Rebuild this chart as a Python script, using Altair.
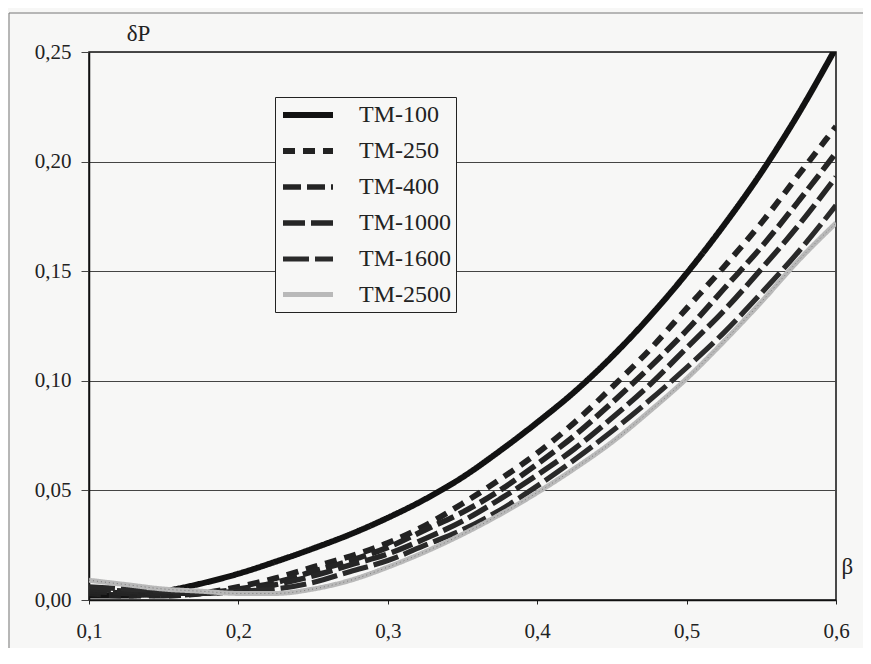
import altair as alt
import pandas as pd

# ---- data ----
beta = [0.1, 0.125, 0.15, 0.175, 0.2, 0.225, 0.25, 0.275, 0.3, 0.325, 0.35,
        0.375, 0.4, 0.425, 0.45, 0.475, 0.5, 0.525, 0.55, 0.575, 0.6]
tm100 = [0.002, 0.002, 0.004, 0.0075, 0.012, 0.0175, 0.0235, 0.030, 0.0375, 0.046, 0.056,
         0.068, 0.081, 0.095, 0.111, 0.129, 0.149, 0.171, 0.195, 0.222, 0.252]
tm250 = [0.003, 0.002, 0.002, 0.003, 0.006, 0.010, 0.015, 0.020, 0.026, 0.034, 0.044,
         0.055, 0.067, 0.081, 0.097, 0.114, 0.133, 0.152, 0.172, 0.194, 0.216]
tm400 = [0.004, 0.003, 0.002, 0.003, 0.005, 0.008, 0.013, 0.018, 0.024, 0.032, 0.040,
         0.050, 0.062, 0.075, 0.090, 0.106, 0.123, 0.142, 0.161, 0.182, 0.204]
tm1000 = [0.005, 0.004, 0.003, 0.003, 0.004, 0.007, 0.011, 0.016, 0.021, 0.028, 0.036,
          0.046, 0.057, 0.069, 0.083, 0.098, 0.115, 0.132, 0.151, 0.171, 0.193]
tm1600 = [0.006, 0.005, 0.004, 0.003, 0.004, 0.005, 0.008, 0.013, 0.018, 0.025, 0.032,
          0.041, 0.052, 0.064, 0.077, 0.091, 0.106, 0.122, 0.140, 0.159, 0.180]
tm2500 = [0.009, 0.007, 0.005, 0.004, 0.003, 0.003, 0.005, 0.009, 0.015, 0.022, 0.030,
          0.039, 0.049, 0.060, 0.072, 0.086, 0.101, 0.118, 0.136, 0.155, 0.172]

series_names = ["TM-100", "TM-250", "TM-400", "TM-1000", "TM-1600", "TM-2500"]
series_vals = [tm100, tm250, tm400, tm1000, tm1600, tm2500]

x_ticks = [0.1, 0.2, 0.3, 0.4, 0.5, 0.6]
y_ticks = [0.0, 0.05, 0.10, 0.15, 0.20, 0.25]

rows = []
for name, vals in zip(series_names, series_vals):
    for b, v in zip(beta, vals):
        rows.append({"beta": b, "dP": v, "series": name})
df = pd.DataFrame(rows)

BG = "#f7f7f6"
FONT = "Liberation Serif"
W, H = 747, 548

x_enc = alt.X(
    "beta:Q",
    scale=alt.Scale(domain=[0.1, 0.6], nice=False, zero=False),
    axis=alt.Axis(
        values=x_ticks,
        labelExpr="replace(format(datum.value, '.1f'), '.', ',')",
        labelFlush=False,
        title="β", titleAngle=0, titleX=752, titleY=-34,
        titleAlign="left", titleBaseline="middle",
        titleFont=FONT, titleFontSize=23, titleFontWeight="normal", titleColor="#222",
        labelFont=FONT, labelFontSize=21, labelColor="#222",
        tickSize=4, tickColor="#222", labelPadding=16,
        grid=False, domainColor="#111", domainWidth=1.5,
    ),
)
y_enc = alt.Y(
    "dP:Q",
    scale=alt.Scale(domain=[0, 0.25], nice=False),
    axis=alt.Axis(
        values=y_ticks,
        labelExpr="replace(format(datum.value, '.2f'), '.', ',')",
        labelFlush=False,
        title="δP", titleAngle=0, titleX=49, titleY=-19,
        titleAlign="center", titleBaseline="middle",
        titleFont=FONT, titleFontSize=23, titleFontWeight="normal", titleColor="#222",
        labelFont=FONT, labelFontSize=21, labelColor="#222",
        tickSize=8, tickColor="#444", labelPadding=10,
        grid=True, gridColor="#444", gridWidth=1,
        domainColor="#111", domainWidth=1.5,
    ),
)

lines = alt.Chart(df).mark_line(clip=True, interpolate="monotone").encode(
    x=x_enc,
    y=y_enc,
    color=alt.Color(
        "series:N",
        scale=alt.Scale(domain=series_names,
                        range=["#121212", "#222222", "#242424", "#262626", "#2a2a2a", "#b9b9b9"]),
        legend=alt.Legend(
            orient="none", legendX=186, legendY=45, title=None,
            symbolType="M-1,0H4", symbolSize=400,
            labelFont=FONT, labelFontSize=24, labelColor="#222",
            labelOffset=53, rowPadding=11, padding=5,
            strokeColor="#222", fillColor=BG,
        ),
    ),
    strokeDash=alt.StrokeDash(
        "series:N",
        scale=alt.Scale(domain=series_names,
                        range=[[1, 0], [12, 8], [18, 6], [22, 6], [26, 6], [1, 0]]),
        legend=None,
    ),
    strokeWidth=alt.StrokeWidth(
        "series:N",
        scale=alt.Scale(domain=series_names, range=[6, 5, 5, 5, 5, 4]),
        legend=None,
    ),
    order=alt.Order("beta:Q"),
)

speckle = alt.Chart(df[df["series"] == "TM-2500"]).mark_line(
    clip=True, interpolate="monotone", color="#7a7a7a", strokeWidth=1, strokeDash=[1, 3]
).encode(x="beta:Q", y="dP:Q")

frame_v = alt.Chart(pd.DataFrame({"k": [0]})).mark_rule(color="#777", strokeWidth=1).encode(
    x=alt.value(-80), y=alt.value(-39), y2=alt.value(620)
)
frame_h = alt.Chart(pd.DataFrame({"k": [0]})).mark_rule(color="#777", strokeWidth=1).encode(
    x=alt.value(-80), x2=alt.value(790), y=alt.value(-39)
)

chart = alt.layer(frame_v, frame_h, lines, speckle).properties(
    width=W, height=H,
    autosize=alt.AutoSizeParams(type="none"),
    padding={"left": 81, "top": 44, "right": 27, "bottom": 48},
    background=BG,
).configure_view(stroke="#111", strokeWidth=1.5)

chart.save("out.html", embed_options={"renderer": "svg", "actions": False})
